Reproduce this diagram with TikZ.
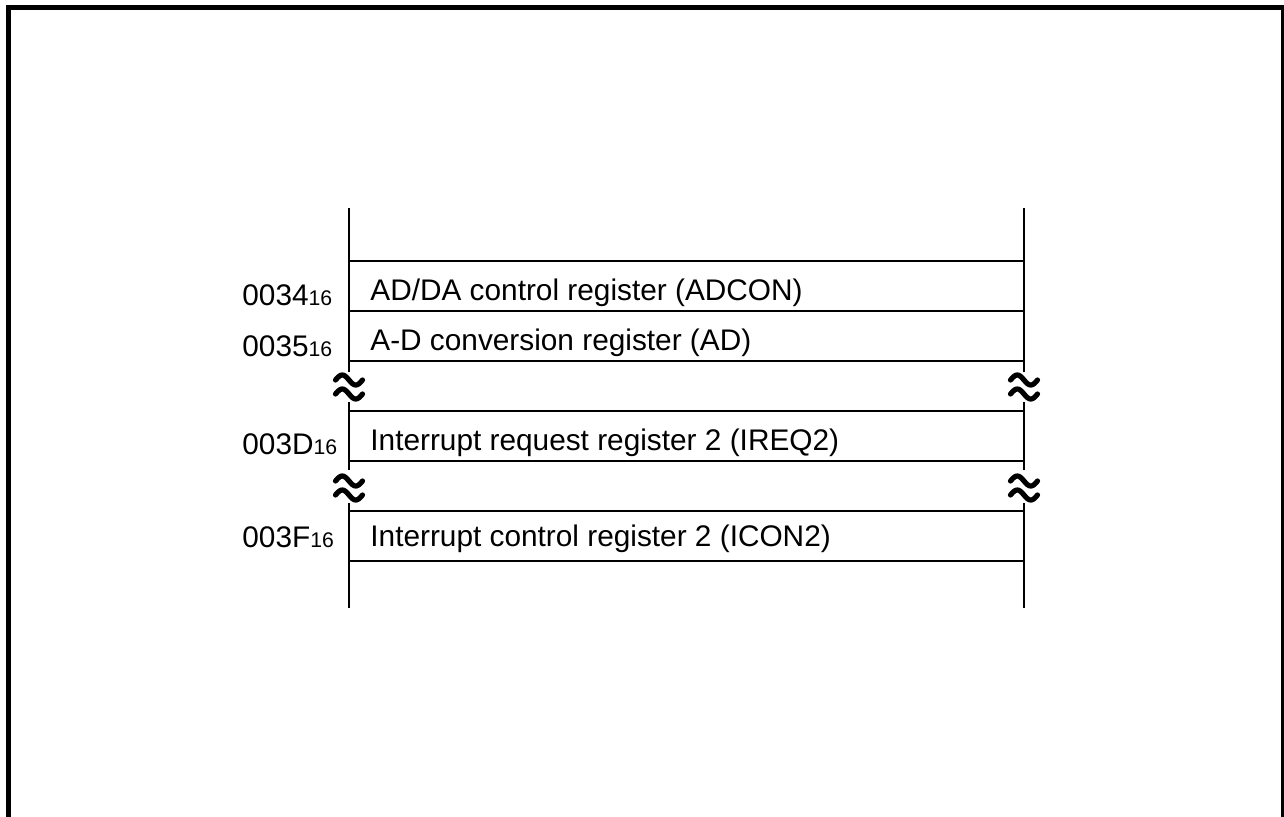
\documentclass[tikz,border=0pt]{standalone}
\usepackage{fontspec}
\setmainfont{Liberation Sans}
\tikzset{
  regtext/.style={anchor=base west,inner sep=0pt,font=\fontsize{14.9}{18}\selectfont},
  addr/.style={anchor=base west,inner sep=0pt,font=\fontsize{14.9}{18}\selectfont},
  mapline/.style={line width=1.1pt},
  wave/.style={line width=2.6pt,line cap=round}
}
\newcommand{\hexsub}[1]{{\fontsize{10.6}{12}\selectfont #1}}

\begin{document}
\begin{tikzpicture}[x=0.5pt,y=-0.5pt]
\useasboundingbox (0,0) rectangle (1284,816);
\clip (0,0) rectangle (1284,816);
% outer frame, open at the bottom
\draw[line width=2.5pt] (8.5,830) -- (8.5,7.5) -- (1283.5,7.5) -- (1283.5,830);
% register rows
\foreach \y in {261,311,361,411,461,511,561}
  \draw[mapline] (349,\y) -- (1025,\y);
% side lines with break marks
\foreach \x in {349,1024}{
  \draw[mapline] (\x,208) -- (\x,372);
  \draw[mapline] (\x,402) -- (\x,470);
  \draw[mapline] (\x,503) -- (\x,608);
  \foreach \c in {380,394,481,495}
    \draw[wave] plot[variable=\t,domain=-1:1,samples=25,smooth] ({\x+13.5*\t},{\c+5*sin(180*\t)});
}
% addresses
\node[addr] (a34) at (242,305) {0034\hexsub{16}};
\node[addr] (a35) at (242,356) {0035\hexsub{16}};
\node[addr] (a3d) at (242,454) {003D\hexsub{16}};
\node[addr] (a3f) at (242,547) {003F\hexsub{16}};
% register names
\node[regtext] (adcon) at (370,300) {AD/DA control register (ADCON)};
\node[regtext] (ad) at (370,350) {A-D conversion register (AD)};
\node[regtext] (ireq2) at (370,450) {Interrupt request register 2 (IREQ2)};
\node[regtext] (icon2) at (370,546) {Interrupt control register 2 (ICON2)};
\end{tikzpicture}
\end{document}
